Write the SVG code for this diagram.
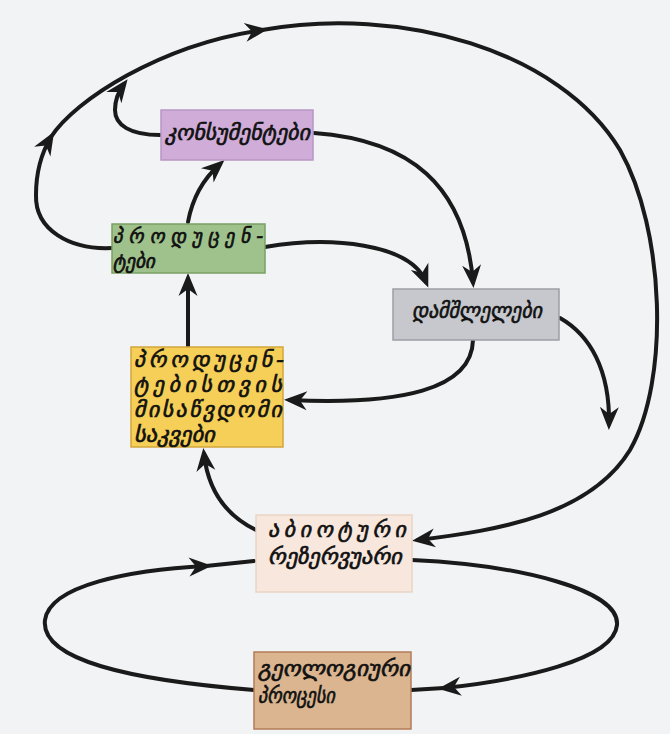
<svg xmlns="http://www.w3.org/2000/svg" width="670" height="734" viewBox="0 0 670 734">
  <defs>
    <marker id="arrow" viewBox="-20 -11 27 22" markerWidth="27" markerHeight="22" refX="0" refY="0" orient="auto" markerUnits="userSpaceOnUse">
      <path d="M6,0 L-17,-9.5 L-10,0 L-17,9.5 Z" fill="#1a1a1a"/>
    </marker>
  </defs>
  <style>
    .box { stroke-width: 1.5; }
    .lbl { font-family: "DejaVu Sans", "Noto Sans", sans-serif; font-style: italic; font-size: 22px; fill: #111; stroke: #111; stroke-width: 0.7; }
    .sm { font-size: 19px; }
    .link { fill: none; stroke: #1a1a1a; stroke-width: 4; stroke-linecap: round; }
    .arr { marker-end: url(#arrow); }
  </style>

  <rect width="670" height="734" fill="#f2f3f5"/>

  <!-- connectors -->
  <g id="connectors">
    <!-- outer cycle: producers around the top back to the abiotic reservoir -->
    <path class="link arr" d="M112,248 C70,250 35,230 36,195 C36,170 42,152 51,137"/>
    <path class="link arr" d="M51,137 C75,100 160,45 262,30"/>
    <path class="link arr" d="M262,30 C400,5 560,50 620,150 C665,230 670,380 630,450 C590,515 500,530 418,540"/>
    <!-- consumers into the outer cycle -->
    <path class="link arr" d="M160,135 C130,135 115,125 115,110 C115,100 118,92 124,84"/>
    <!-- producers to consumers -->
    <path class="link arr" d="M188,222 C192,200 202,180 220,164"/>
    <!-- producers to decomposers -->
    <path class="link arr" d="M265,247 C330,236 410,243 426,282"/>
    <!-- consumers to decomposers -->
    <path class="link arr" d="M314,133 C410,140 465,185 473,282"/>
    <!-- nutrients to producers -->
    <path class="link arr" d="M188,347 L188,279"/>
    <!-- decomposers to nutrients -->
    <path class="link arr" d="M473,340 C472,390 400,405 290,400"/>
    <!-- decomposers outward -->
    <path class="link arr" d="M560,318 C590,335 610,370 609,424"/>
    <!-- abiotic reservoir to nutrients -->
    <path class="link arr" d="M256,530 C225,515 208,490 204,454"/>
    <!-- lower loop: geological processes and abiotic reservoir -->
    <path class="link arr" d="M254,690 C130,680 40,660 45,620 C50,585 130,570 206,566"/>
    <path class="link" d="M206,566 L254,561"/>
    <path class="link arr" d="M412,560 C520,565 620,590 617,625 C614,660 520,680 444,688"/>
    <path class="link" d="M444,688 L411,690"/>
  </g>

  <g id="consumers">
    <rect class="box" x="161" y="110" width="152" height="50" fill="#cfadd8" stroke="#b896c4"/>
    <text class="lbl" x="165" y="140" textLength="145" lengthAdjust="spacingAndGlyphs">კონსუმენტები</text>
  </g>

  <g id="producers">
    <rect class="box" x="112" y="224" width="153" height="49" fill="#9fc28c" stroke="#79a064"/>
    <text class="lbl sm" x="113" y="243" textLength="150" lengthAdjust="spacing">პროდუცენ-</text>
    <text class="lbl sm" x="113" y="268" textLength="42" lengthAdjust="spacingAndGlyphs">ტები</text>
  </g>

  <g id="decomposers">
    <rect class="box" x="393" y="289" width="166" height="51" fill="#c6c8cd" stroke="#9c9ea4"/>
    <text class="lbl" x="412" y="318" textLength="130" lengthAdjust="spacingAndGlyphs">დამშლელები</text>
  </g>

  <g id="nutrients">
    <rect class="box" x="131" y="347" width="152" height="100" fill="#f5cf57" stroke="#d2a63c"/>
    <text class="lbl" x="134" y="367" textLength="150" lengthAdjust="spacing">პროდუცენ-</text>
    <text class="lbl" x="134" y="392" textLength="148" lengthAdjust="spacing">ტებისთვის</text>
    <text class="lbl" x="134" y="417" textLength="148" lengthAdjust="spacing">მისაწვდომი</text>
    <text class="lbl" x="134" y="442" textLength="81" lengthAdjust="spacingAndGlyphs">საკვები</text>
  </g>

  <g id="abiotic">
    <rect class="box" x="256" y="515" width="156" height="77" fill="#f7e7dd" stroke="#ead5c5"/>
    <text class="lbl" x="268" y="537" textLength="138" lengthAdjust="spacing">აბიოტური</text>
    <text class="lbl" x="268" y="564" textLength="134" lengthAdjust="spacingAndGlyphs">რეზერვუარი</text>
  </g>

  <g id="geological">
    <rect class="box" x="254" y="652" width="157" height="77" fill="#dab590" stroke="#b27c57"/>
    <text class="lbl" x="258" y="676" textLength="152" lengthAdjust="spacingAndGlyphs">გეოლოგიური</text>
    <text class="lbl" x="258" y="703" textLength="77" lengthAdjust="spacingAndGlyphs">პროცესი</text>
  </g>
</svg>
